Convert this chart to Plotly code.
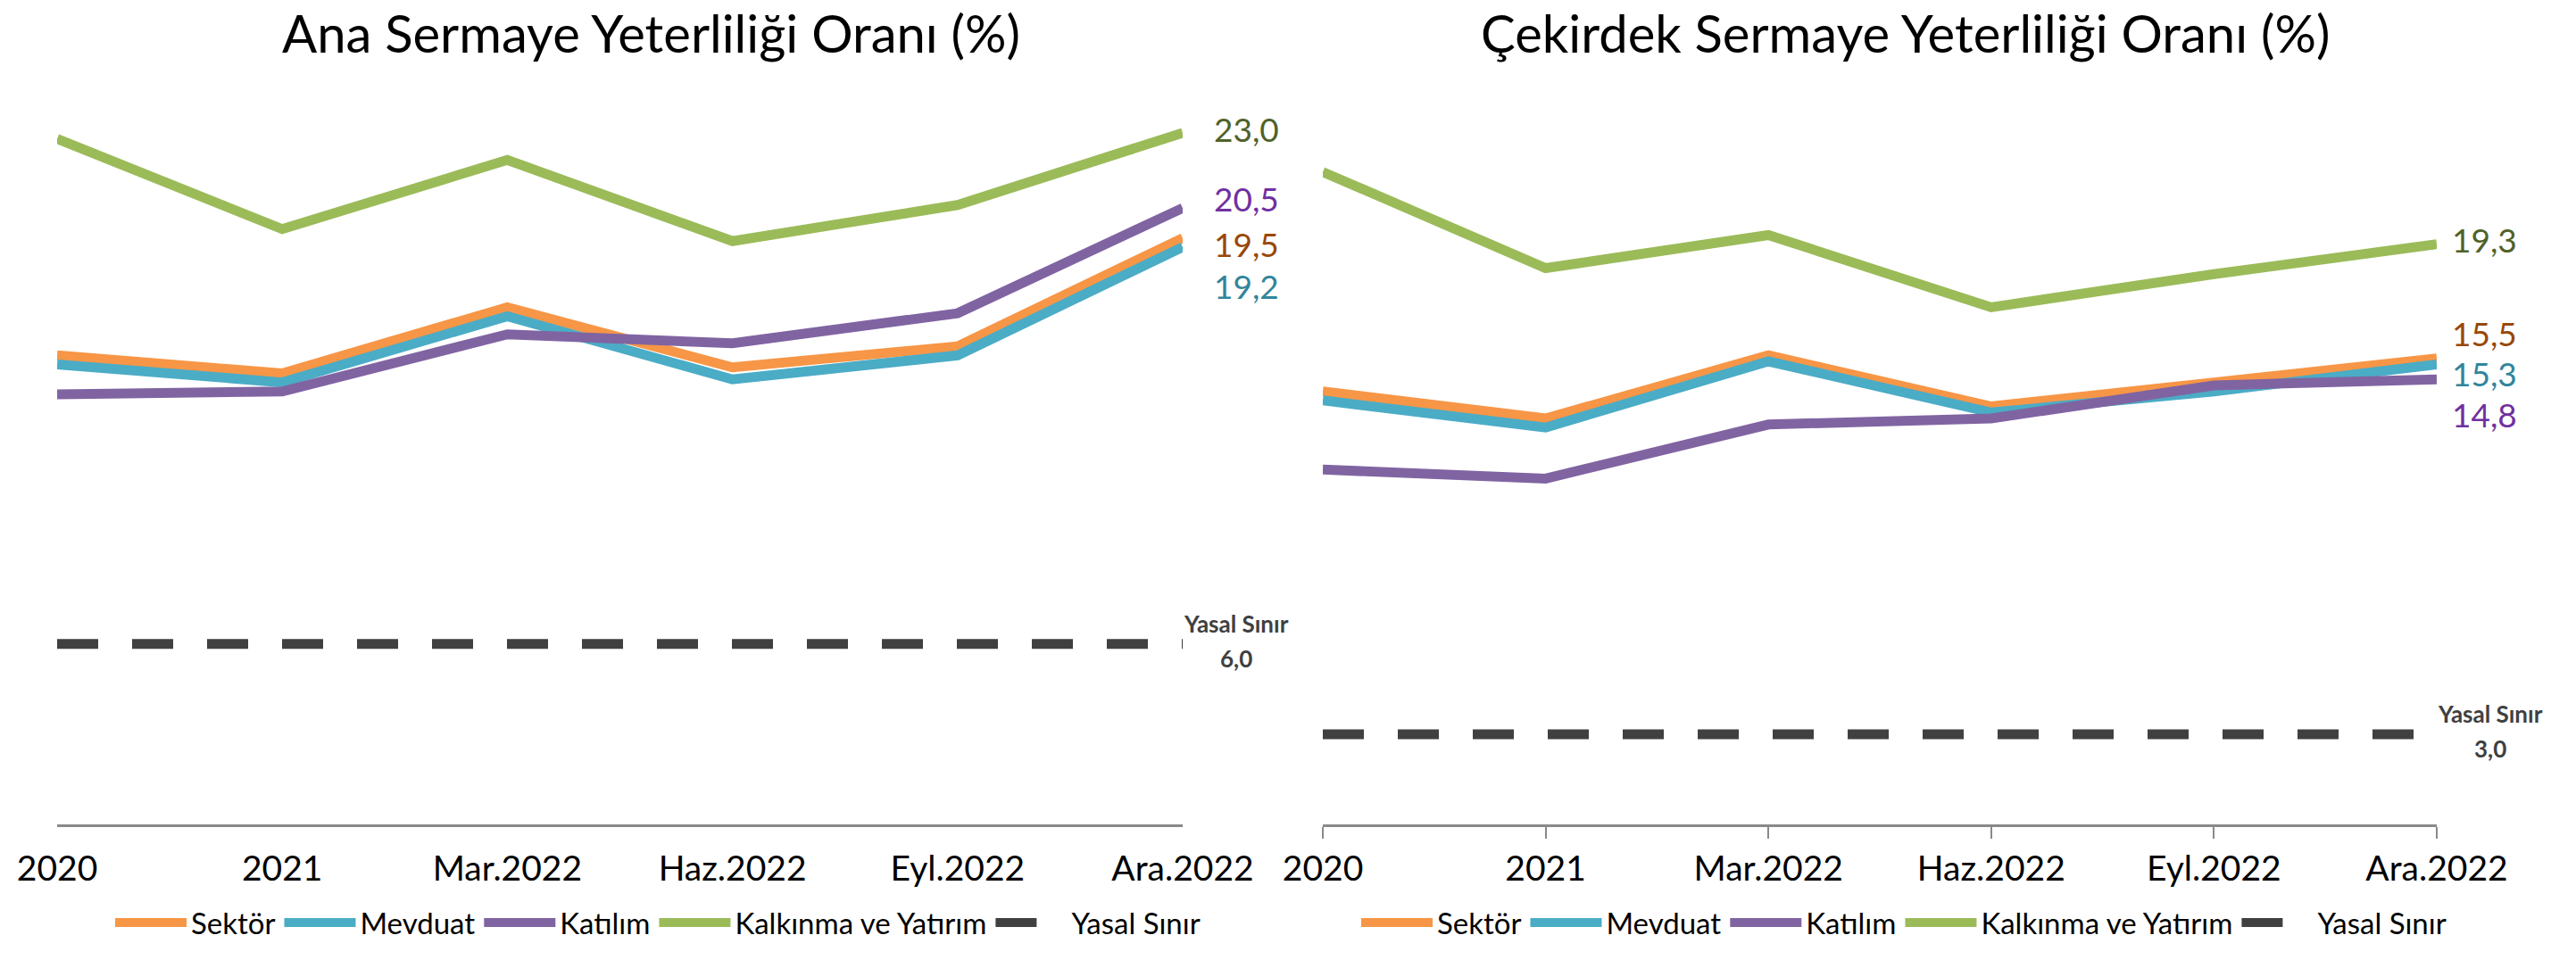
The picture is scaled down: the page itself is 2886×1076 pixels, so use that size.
import plotly.graph_objects as go

# ---------------- data ----------------
categories = ["2020", "2021", "Mar.2022", "Haz.2022", "Eyl.2022", "Ara.2022"]
series_names = ["Sektör", "Mevduat", "Katılım", "Kalkınma ve Yatırım"]
limit_name = "Yasal Sınır"

# Ana Sermaye Yeterliliği Oranı (%)
ana_sektor = [15.6, 15.0, 17.2, 15.2, 15.9, 19.5]
ana_mevduat = [15.3, 14.7, 16.9, 14.8, 15.6, 19.2]
ana_katilim = [14.3, 14.4, 16.3, 16.0, 17.0, 20.5]
ana_kalkinma = [22.8, 19.8, 22.1, 19.4, 20.6, 23.0]
ana_yasal = 6.0

# Çekirdek Sermaye Yeterliliği Oranı (%)
cek_sektor = [14.4, 13.5, 15.6, 13.9, 14.7, 15.5]
cek_mevduat = [14.1, 13.2, 15.4, 13.7, 14.4, 15.3]
cek_katilim = [11.8, 11.5, 13.3, 13.5, 14.6, 14.8]
cek_kalkinma = [21.7, 18.5, 19.6, 17.2, 18.3, 19.3]
cek_yasal = 3.0

titles = ["Ana Sermaye Yeterliliği Oranı (%)", "Çekirdek Sermaye Yeterliliği Oranı (%)"]

# ---------------- style ----------------
FONT = "Lato, 'Open Sans', sans-serif"
line_colors = ["#F79646", "#4BACC6", "#8064A2", "#9BBB59"]
label_colors = ["#984807", "#31859C", "#7030A0", "#4F6228"]
limit_color = "#404040"
axis_color = "#898989"
W, H = 2886, 1076

fig = go.Figure()

panels = [
    dict(series=[ana_sektor, ana_mevduat, ana_katilim, ana_kalkinma], limit=ana_yasal,
         xa="x", ya="y", legend="legend",
         label_shift=[-7, -44, 11, 4], label_dx=33, limit_dx=60),
    dict(series=[cek_sektor, cek_mevduat, cek_katilim, cek_kalkinma], limit=cek_yasal,
         xa="x2", ya="y2", legend="legend2",
         label_shift=[28, -10, -39, 5], label_dx=15, limit_dx=60),
]

annotations = []
for p in panels:
    for name, vals, col in zip(series_names, p["series"], line_colors):
        fig.add_trace(go.Scatter(
            x=categories, y=vals, name=name, mode="lines",
            line=dict(color=col, width=11),
            xaxis=p["xa"], yaxis=p["ya"], legend=p["legend"], hoverinfo="skip",
        ))
    fig.add_trace(go.Scatter(
        x=categories, y=[p["limit"]] * len(categories), name=limit_name, mode="lines",
        line=dict(color=limit_color, width=11, dash="46px,38px"),
        xaxis=p["xa"], yaxis=p["ya"], legend=p["legend"], hoverinfo="skip",
    ))
    # end-of-line value labels
    for vals, lc, ys in zip(p["series"], label_colors, p["label_shift"]):
        annotations.append(dict(
            x=categories[-1], y=vals[-1], xref=p["xa"], yref=p["ya"],
            text=f"{vals[-1]:.1f}".replace(".", ","), showarrow=False,
            xanchor="left", yanchor="middle", xshift=p["label_dx"], yshift=ys,
            font=dict(family=FONT, size=37, color=lc),
        ))
    # legal limit labels
    annotations.append(dict(
        x=categories[-1], y=p["limit"], xref=p["xa"], yref=p["ya"],
        text=f"<b>{limit_name}</b>", showarrow=False,
        xanchor="center", yanchor="middle", xshift=p["limit_dx"], yshift=23,
        font=dict(family=FONT, size=26, color=limit_color),
    ))
    annotations.append(dict(
        x=categories[-1], y=p["limit"], xref=p["xa"], yref=p["ya"],
        text="<b>" + f"{p['limit']:.1f}".replace(".", ",") + "</b>", showarrow=False,
        xanchor="center", yanchor="middle", xshift=p["limit_dx"], yshift=-16,
        font=dict(family=FONT, size=26, color=limit_color),
    ))

# titles
for t, xc in zip(titles, [729 / W, 2134 / W]):
    annotations.append(dict(
        x=xc, y=1, xref="paper", yref="paper", text=t, showarrow=False,
        xanchor="center", yanchor="top",
        font=dict(family=FONT, size=58, color="#000000"),
    ))

ydom = [152 / H, 1 - 81.5 / H]
xcommon = dict(type="category", range=[0, 5], showgrid=False, zeroline=False,
               showline=True, linecolor=axis_color, linewidth=2.5,
               ticks="outside", ticklen=13, tickwidth=2,
               tickfont=dict(family=FONT, size=39, color="#000000"))
ycommon = dict(range=[0, 25], showgrid=False, zeroline=False, showline=False,
               showticklabels=False, ticks="", domain=ydom)

legend_common = dict(orientation="h", yanchor="middle", y=42 / H, xanchor="center",
                     font=dict(family=FONT, size=33, color="#000000"),
                     bgcolor="rgba(0,0,0,0)", traceorder="normal", itemwidth=80)

fig.update_layout(
    width=W, height=H, margin=dict(l=0, r=0, t=0, b=0, autoexpand=False),
    paper_bgcolor="white", plot_bgcolor="white", showlegend=True,
    xaxis=dict(domain=[64 / W, 1325 / W], anchor="y", tickcolor="rgba(0,0,0,0)", **xcommon),
    xaxis2=dict(domain=[1482 / W, 2730 / W], anchor="y2", tickcolor=axis_color, **xcommon),
    yaxis=dict(anchor="x", **ycommon),
    yaxis2=dict(anchor="x2", **ycommon),
    legend=dict(x=737 / W, **legend_common),
    legend2=dict(x=2133 / W, **legend_common),
    annotations=annotations,
)

fig.write_html("out.html", config={"displayModeBar": False},
               post_script="document.body.style.margin='0';document.body.style.overflow='hidden';")
